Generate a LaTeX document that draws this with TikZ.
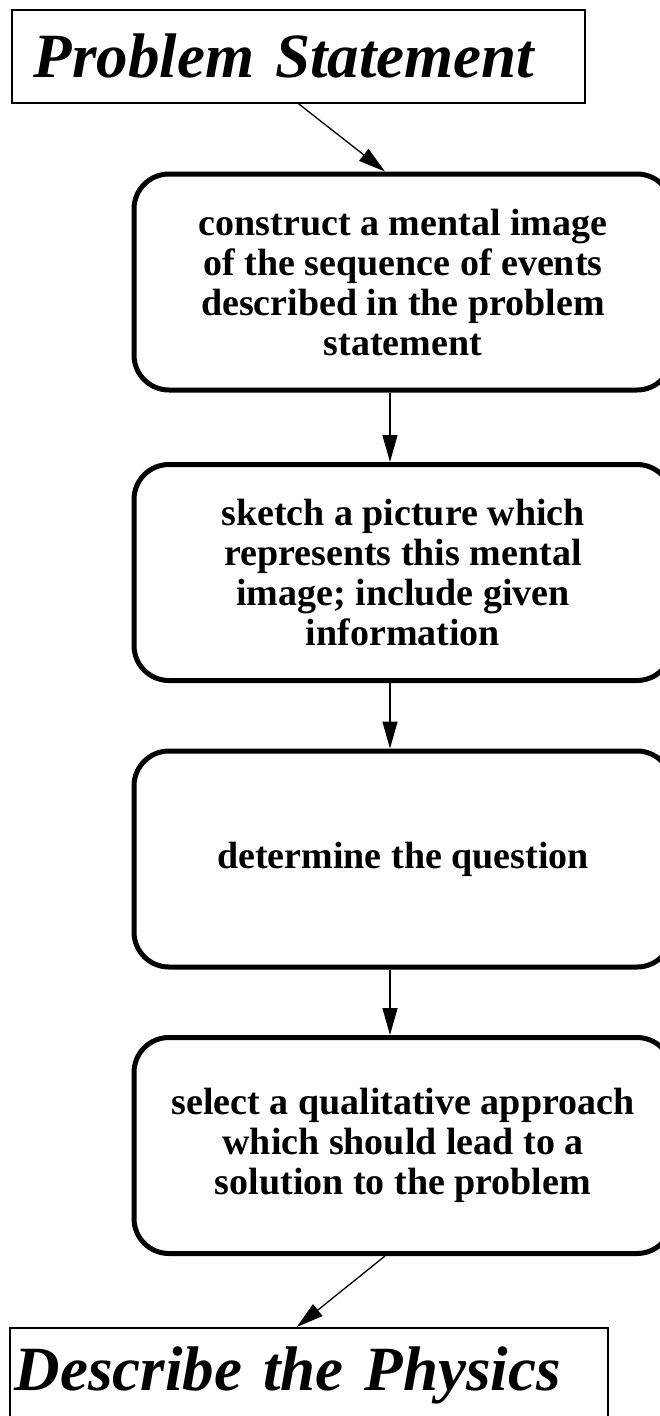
\documentclass[tikz,border=0pt]{standalone}
\usepackage{fontspec}
\setmainfont{Liberation Serif}
\usetikzlibrary{positioning}
\usetikzlibrary{arrows.meta}
\tikzset{
    titlebox/.style = {draw=black, line width=1.5pt, anchor=north west, align=left, inner ysep=0pt, font=\bfseries\itshape\fontsize{63}{63}\selectfont},
    stepnode/.style = {draw=black, line width=5pt, rounded corners=35pt, align=center, minimum width=538pt, minimum height=216pt, font=\bfseries\fontsize{38}{40}\selectfont},
    flow/.style = {line width=1.3pt, -{Triangle[length=27pt,width=15pt]}},
}

\begin{document}
\begin{tikzpicture}[x=1pt, y=-1pt, node distance=65.5pt]
  \useasboundingbox (0,0) rectangle (659,1416);
  % start and end boxes
  \node[titlebox, text width=529pt, inner xsep=22pt, minimum height=93pt] (prob) at (11,9) {Problem Statement};
  % the four steps
  \node[stepnode] (s1) at (403,282) {construct a mental image\\of the sequence of events\\described in the problem\\statement};
  \node[stepnode, below=69.5pt of s1] (s2) {sketch a picture which\\represents this mental\\image; include given\\information};
  \node[stepnode, below=of s2] (s3) {determine the question};
  \node[stepnode, below=of s3] (s4) {select a qualitative approach\\which should lead to a\\solution to the problem};
  \node[titlebox, text width=588pt, inner xsep=5pt, minimum height=95pt] (desc) at (9,1327) {Describe the Physics};
  % arrows
  \draw[flow] (prob.south) -- ([xshift=-18pt]s1.north);
  \draw[flow] ([xshift=-13pt]s1.south) -- ([xshift=-13pt]s2.north);
  \draw[flow] ([xshift=-13pt]s2.south) -- ([xshift=-13pt]s3.north);
  \draw[flow] ([xshift=-13pt]s3.south) -- ([xshift=-13pt]s4.north);
  \draw[flow] ([xshift=-18pt]s4.south) -- ([xshift=-12pt]desc.north);
\end{tikzpicture}
\end{document}
